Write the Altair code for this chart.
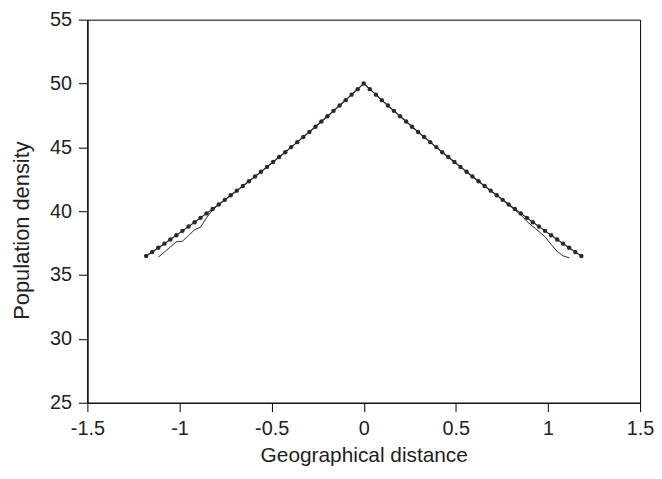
import altair as alt
import pandas as pd

# dotted series (model)
distance = [-1.181, -1.148, -1.115, -1.082, -1.050, -1.017, -0.984, -0.951, -0.918, -0.886,
            -0.853, -0.820, -0.787, -0.754, -0.722, -0.689, -0.656, -0.623, -0.590, -0.558,
            -0.525, -0.492, -0.459, -0.426, -0.394, -0.361, -0.328, -0.295, -0.262, -0.230,
            -0.197, -0.164, -0.131, -0.098, -0.066, -0.033, 0.000,
            0.033, 0.066, 0.098, 0.131, 0.164, 0.197, 0.230, 0.262, 0.295, 0.328,
            0.361, 0.394, 0.426, 0.459, 0.492, 0.525, 0.558, 0.590, 0.623, 0.656,
            0.689, 0.722, 0.754, 0.787, 0.820, 0.853, 0.886, 0.918, 0.951, 0.984,
            1.017, 1.050, 1.082, 1.115, 1.148, 1.181]
density = [36.49, 36.81, 37.14, 37.46, 37.79, 38.12, 38.46, 38.80, 39.14, 39.48,
           39.83, 40.18, 40.53, 40.89, 41.25, 41.61, 41.97, 42.34, 42.72, 43.09,
           43.47, 43.85, 44.24, 44.62, 45.02, 45.41, 45.81, 46.21, 46.62, 47.03,
           47.44, 47.86, 48.28, 48.70, 49.13, 49.56, 50.00,
           49.56, 49.13, 48.70, 48.28, 47.86, 47.44, 47.03, 46.62, 46.21, 45.81,
           45.41, 45.02, 44.62, 44.24, 43.85, 43.47, 43.09, 42.72, 42.34, 41.97,
           41.61, 41.25, 40.89, 40.53, 40.18, 39.83, 39.48, 39.14, 38.80, 38.46,
           38.12, 37.79, 37.46, 37.14, 36.81, 36.49]

# thin solid series (simulation)
line_distance = [-1.115, -1.082, -1.050, -1.017, -0.984, -0.951, -0.918, -0.886,
                 -0.853, -0.820, -0.787, -0.754, -0.722, -0.689, -0.656, -0.623, -0.590, -0.558,
                 -0.525, -0.492, -0.459, -0.426, -0.394, -0.361, -0.328, -0.295, -0.262, -0.230,
                 -0.197, -0.164, -0.131, -0.098, -0.066, -0.033, 0.000,
                 0.033, 0.066, 0.098, 0.131, 0.164, 0.197, 0.230, 0.262, 0.295, 0.328,
                 0.361, 0.394, 0.426, 0.459, 0.492, 0.525, 0.558, 0.590, 0.623, 0.656,
                 0.689, 0.722, 0.754, 0.787, 0.820, 0.853, 0.886, 0.918, 0.951, 0.984,
                 1.017, 1.050, 1.082, 1.115]
line_density = [36.40, 36.80, 37.20, 37.60, 37.65, 38.10, 38.55, 38.75,
                39.50, 40.10, 40.53, 40.89, 41.25, 41.61, 41.97, 42.34, 42.72, 43.09,
                43.47, 43.85, 44.24, 44.62, 45.02, 45.41, 45.81, 46.21, 46.62, 47.03,
                47.44, 47.86, 48.28, 48.70, 49.13, 49.56, 50.00,
                49.56, 49.13, 48.70, 48.28, 47.86, 47.44, 47.03, 46.62, 46.21, 45.81,
                45.41, 45.02, 44.62, 44.24, 43.85, 43.47, 43.09, 42.72, 42.34, 41.97,
                41.61, 41.25, 40.89, 40.50, 40.10, 39.70, 39.20, 38.80, 38.40, 38.00,
                37.40, 36.85, 36.50, 36.35]

x_ticks = [-1.5, -1, -0.5, 0, 0.5, 1, 1.5]
y_ticks = [25, 30, 35, 40, 45, 50, 55]

dots = pd.DataFrame({"distance": distance, "density": density})
sim = pd.DataFrame({"distance": line_distance, "density": line_density})

x_enc = alt.X("distance:Q",
              scale=alt.Scale(domain=[-1.5, 1.5], nice=False, zero=False),
              axis=alt.Axis(values=x_ticks, labelExpr="'' + datum.value",
                            title="Geographical distance"))
y_enc = alt.Y("density:Q",
              scale=alt.Scale(domain=[25, 55], nice=False, zero=False),
              axis=alt.Axis(values=y_ticks, title="Population density", titleY=212))

sim_line = alt.Chart(sim).mark_line(color="#111111", strokeWidth=0.9).encode(x=x_enc, y=y_enc)
dot_line = alt.Chart(dots).mark_line(color="#222222", strokeWidth=1.2).encode(x=x_enc, y=y_enc)
dot_pts = alt.Chart(dots).mark_circle(color="#2a2a2a", size=20, opacity=1).encode(x=x_enc, y=y_enc)

chart = alt.layer(sim_line, dot_line, dot_pts).properties(
    width=557, height=386,
    autosize=alt.AutoSizeParams(type="none"),
    padding={"left": 80, "top": 10, "right": 14, "bottom": 64},
).configure_view(
    stroke="#000000", strokeWidth=1
).configure_axis(
    grid=False, labelFlush=False,
    domainColor="#000000", domainWidth=1.2,
    tickColor="#000000", tickWidth=1, tickSize=9,
    labelFont="Liberation Sans", labelFontSize=20, labelColor="#222222",
    titleFont="Liberation Sans", titleColor="#222222",
    titleFontWeight="normal", labelPadding=7,
).configure_axisY(
    titlePadding=16, titleFontSize=22
).configure_axisX(
    titlePadding=6, titleFontSize=21
)

chart.save("out.html", embed_options={"renderer": "svg", "actions": False})
